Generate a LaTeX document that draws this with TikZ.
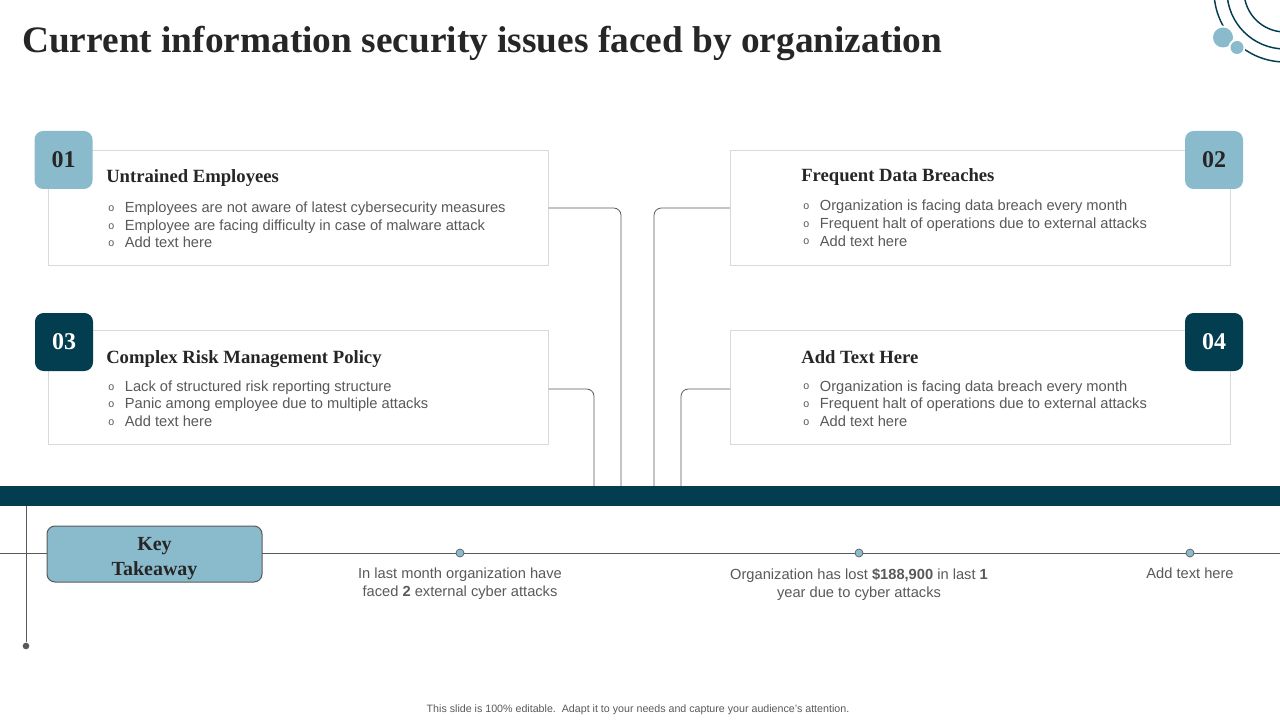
\documentclass[tikz,border=0pt]{standalone}
\usepackage{fontspec}
\setmainfont{Liberation Serif}
\setsansfont{Liberation Sans}
\usetikzlibrary{positioning}
\definecolor{deepteal}{HTML}{033E50}
\definecolor{paleblue}{HTML}{8ABBCD}
\definecolor{cardline}{HTML}{D9D9D9}
\definecolor{inktext}{HTML}{262626}
\definecolor{bodytext}{HTML}{595959}
\definecolor{wire}{HTML}{595959}
\newcommand{\bul}{\makebox[12.5pt][l]{\raisebox{0.9pt}{\fontsize{8}{8}\selectfont o}}}
\tikzset{
  card/.style     = {draw=cardline, line width=0.75pt, fill=white, inner sep=0pt,
                     minimum width=375pt, minimum height=85.5pt},
  badgelt/.style  = {fill=paleblue, rounded corners=6.5pt, inner sep=0pt,
                     minimum width=43.5pt, minimum height=43.5pt, text=inktext,
                     font=\fontsize{18}{18}\selectfont\bfseries},
  badgedk/.style  = {badgelt, fill=deepteal, text=white},
  cardhead/.style = {anchor=base west, inner sep=0pt, text=inktext,
                     font=\fontsize{14}{16}\selectfont\bfseries},
  cardbody/.style = {anchor=north west, inner sep=0pt, align=left, text=bodytext,
                     font=\sffamily\fontsize{11}{13.2}\selectfont},
  link/.style     = {draw=wire, line width=0.6pt, rounded corners=5.5pt},
  tline/.style    = {draw=wire, line width=0.6pt},
  tdot/.style     = {circle, fill=paleblue, draw=wire, line width=0.5pt,
                     inner sep=0pt, minimum size=6pt},
  enddot/.style   = {circle, fill=wire, inner sep=0pt, minimum size=5pt},
  keybox/.style   = {draw=wire, line width=0.75pt, fill=paleblue, rounded corners=6pt,
                     inner sep=0pt, minimum width=161.25pt, minimum height=42pt,
                     align=center, text=inktext,
                     font=\fontsize{15}{18.75}\selectfont\bfseries},
  note/.style     = {inner sep=0pt, align=center, text=bodytext,
                     font=\sffamily\fontsize{11}{13.5}\selectfont},
  ring/.style     = {draw=deepteal, line width=1.1pt}
}

\begin{document}
\begin{tikzpicture}[x=0.75pt, y=-0.75pt]
  \useasboundingbox (0,0) rectangle (1280,720);
  % corner rings
  \begin{scope}
    \clip (0,0) rectangle (1280,720);
    \foreach \r in {41,58,71}
      { \draw[ring] (1285,-9) circle (\r); }
    \fill[white] (1223,37.5) circle (12);
    \fill[paleblue] (1223,37.5) circle (10);
    \fill[white] (1237,47.5) circle (8.5);
    \fill[paleblue] (1237,47.5) circle (6.5);
  \end{scope}

  \node[anchor=base west, inner sep=0pt, text=inktext,
        font=\fontsize{28}{30}\selectfont\bfseries] (title) at (22,52.5)
        {Current information security issues faced by organization};

  % cards
  \node[card] (card1) at (298,208) {};
  \node[card] (card2) at (980.5,208) {};
  \node[card] (card3) at (298,387) {};
  \node[card] (card4) at (980.5,387) {};
  \node[badgelt] (tag1) at (63.5,160) {01};
  \node[badgelt] (tag2) at (1214,160) {02};
  \node[badgedk] (tag3) at (64,342) {03};
  \node[badgedk] (tag4) at (1214,342) {04};

  \node[cardhead] (head1) at (106,182.5) {Untrained Employees};
  \node[cardhead] (head2) at (801,182) {Frequent Data Breaches};
  \node[cardhead] (head3) at (106,363) {Complex Risk Management Policy};
  \node[cardhead] (head4) at (801,363) {Add Text Here};

  \node[cardbody] (body1) at (108,201.8)
    {\bul Employees are not aware of latest cybersecurity measures\\
     \bul Employee are facing difficulty in case of malware attack\\
     \bul Add text here};
  \node[cardbody] (body2) at (803,200)
    {\bul Organization is facing data breach every month\\
     \bul Frequent halt of operations due to external attacks\\
     \bul Add text here};
  \node[cardbody] (body3) at (108,380.4)
    {\bul Lack of structured risk reporting structure\\
     \bul Panic among employee due to multiple attacks\\
     \bul Add text here};
  \node[cardbody] (body4) at (803,380.2)
    {\bul Organization is facing data breach every month\\
     \bul Frequent halt of operations due to external attacks\\
     \bul Add text here};

  % links down to the bar
  \coordinate (drop1) at (621,490);
  \coordinate (drop2) at (654,490);
  \coordinate (drop3) at (594,490);
  \coordinate (drop4) at (681,490);
  \draw[link] (card1.east) -| (drop1);
  \draw[link] (card2.west) -| (drop2);
  \draw[link] ([yshift=-1.5pt]card3.east) -| (drop3);
  \draw[link] ([yshift=-1.5pt]card4.west) -| (drop4);

  \node[fill=deepteal, inner sep=0pt, minimum width=960pt,
        minimum height=15pt] (bar) at (640,496) {};

  % takeaway line
  \coordinate (tlw) at (0,553);
  \coordinate (tle) at (1280,553);
  \draw[tline] (tlw) -- (tle);
  \node[enddot] (tail) at (26,646) {};
  \draw[tline] (bar.south -| tail) -- (tail);
  \node[keybox] (key) at (154.5,554) {\rule{0pt}{16pt}Key\\Takeaway};
  \node[tdot] (pt1) at (460,553) {};
  \node[tdot] (pt2) at (859,553) {};
  \node[tdot] (pt3) at (1190,553) {};
  \node[note, below=8pt of pt1] (note1)
    {In last month organization have\\faced \textbf{2} external cyber attacks};
  \node[note, below=8pt of pt2] (note2)
    {Organization has lost \textbf{\$188,900} in last \textbf{1}\\year due to cyber attacks};
  \node[note, below=8pt of pt3] (note3) {Add text here};

  \node[inner sep=0pt, text=bodytext, font=\sffamily\fontsize{8}{9}\selectfont]
    (foot) at (638,710)
    {This slide is 100\% editable.\ \ Adapt it to your needs and capture your audience's attention.};
\end{tikzpicture}
\end{document}
